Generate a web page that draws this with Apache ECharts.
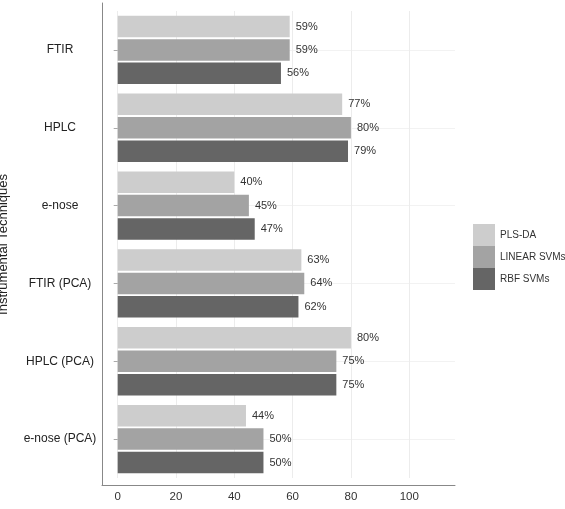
<!DOCTYPE html>
<html>
<head>
<meta charset="utf-8">
<script src="https://cdn.jsdelivr.net/npm/echarts@6/dist/echarts.min.js"></script>
<style>
  html, body { margin: 0; padding: 0; background: #fff; }
  #chart { width: 565px; height: 509px; }
</style>
</head>
<body>
<div id="chart"></div>
<script>
const categories = ['FTIR', 'HPLC', 'e-nose', 'FTIR (PCA)', 'HPLC (PCA)', 'e-nose (PCA)']
const plsda = [59, 77, 40, 63, 80, 44]
const linearSvm = [59, 80, 45, 64, 75, 50]
const rbfSvm = [56, 79, 47, 62, 75, 50]
const xTicks = [0, 20, 40, 60, 80, 100]

const font = 'Liberation Sans, Arial, sans-serif'

const label = {
  show: true,
  position: 'right',
  distance: 6,
  formatter: '{c}%',
  color: '#333',
  fontSize: 11,
  fontFamily: font
}

function bar (name, data, color) {
  return {
    name: name,
    type: 'bar',
    data: data,
    barWidth: 21.5,
    barGap: '9%',
    itemStyle: { color: color },
    label: label
  }
}

const chart = echarts.init(document.getElementById('chart'))
chart.setOption({
  animation: false,
  textStyle: { fontFamily: font },
  grid: [
    // 数据区
    { left: 117.7, right: 110, top: 11, bottom: 31, outerBoundsMode: 'none' },
    // 只画外框两条轴线
    { left: 102, right: 110, top: 3, bottom: 24, outerBoundsMode: 'none' }
  ],
  legend: {
    orient: 'vertical',
    left: 468,
    top: 219,
    itemWidth: 22,
    itemHeight: 22,
    itemGap: 0,
    icon: 'rect',
    selectedMode: false,
    textStyle: { color: '#333', fontSize: 10, fontFamily: font },
    data: ['PLS-DA', 'LINEAR SVMs', 'RBF SVMs']
  },
  xAxis: [
    {
      type: 'value',
      gridIndex: 0,
      min: 0,
      max: 115.7,
      interval: 20,
      offset: 7,
      axisLine: { show: false },
      axisTick: { show: false },
      axisLabel: {
        color: '#333',
        fontSize: 11.5,
        margin: 6,
        showMaxLabel: false,
        formatter: v => (xTicks.indexOf(v) >= 0 ? String(v) : '')
      },
      splitLine: { show: true, showMaxLine: false, lineStyle: { color: '#ececec', width: 1 } }
    },
    {
      type: 'value',
      gridIndex: 1,
      min: 0,
      max: 1,
      axisLine: { show: true, lineStyle: { color: '#888', width: 1 } },
      axisTick: { show: false },
      axisLabel: { show: false },
      splitLine: { show: false }
    }
  ],
  yAxis: [
    {
      type: 'category',
      gridIndex: 0,
      data: categories,
      inverse: true,
      offset: 15.7,
      name: 'Instrumental Techniques',
      nameLocation: 'middle',
      nameGap: 92,
      nameTextStyle: { color: '#222', fontSize: 13 },
      axisLine: { show: false },
      axisTick: { show: true, alignWithLabel: true, length: 4, lineStyle: { color: '#aaa' } },
      axisLabel: { color: '#222', fontSize: 12, align: 'center', margin: 42 },
      splitLine: { show: true, alignWithLabel: true, lineStyle: { color: '#f2f2f2', width: 1 } }
    },
    {
      type: 'value',
      gridIndex: 1,
      min: 0,
      max: 1,
      axisLine: { show: true, lineStyle: { color: '#888', width: 1 } },
      axisTick: { show: false },
      axisLabel: { show: false },
      splitLine: { show: false }
    }
  ],
  series: [
    bar('PLS-DA', plsda, '#cdcdcd'),
    bar('LINEAR SVMs', linearSvm, '#a3a3a3'),
    bar('RBF SVMs', rbfSvm, '#656565')
  ]
})
</script>
</body>
</html>
